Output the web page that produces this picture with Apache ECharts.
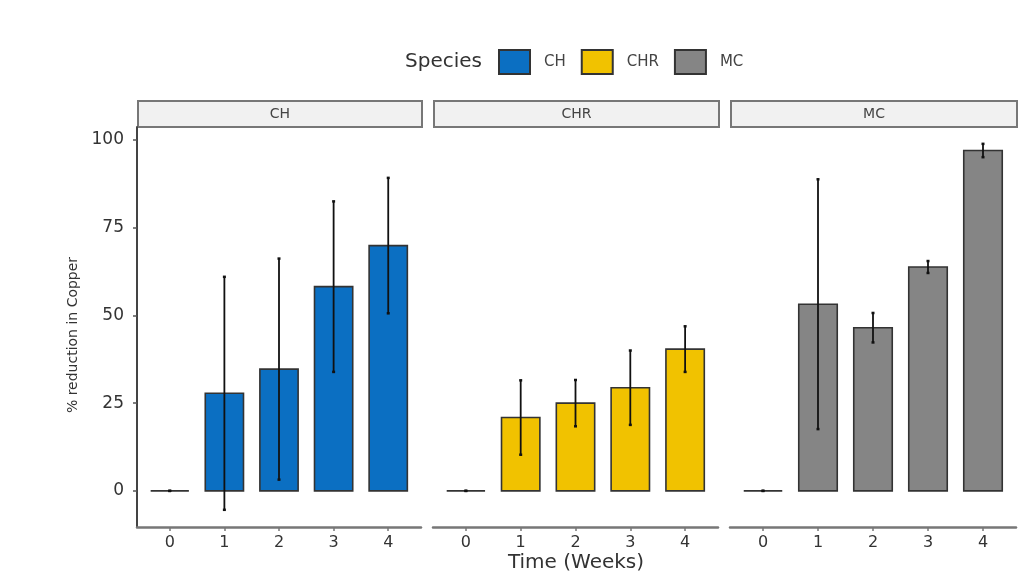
<!DOCTYPE html>
<html>
<head>
<meta charset="utf-8">
<script src="https://cdn.jsdelivr.net/npm/echarts@6/dist/echarts.min.js"></script>
<style>
  html, body { margin: 0; padding: 0; background: #fff; }
  #chart { width: 1031px; height: 586px; }
</style>
</head>
<body>
<div id="chart"></div>
<script>
// data
const species = ['CH', 'CHR', 'MC'];
const weeks = [0, 1, 2, 3, 4];
const meanCH = [0, 27.8, 34.7, 58.2, 69.9];
const errCH = [0, 33.2, 31.5, 24.3, 19.3];
const meanCHR = [0, 20.9, 25.0, 29.4, 40.4];
const errCHR = [0, 10.6, 6.6, 10.6, 6.5];
const meanMC = [0, 53.2, 46.5, 63.8, 97.0];
const errMC = [0, 35.6, 4.2, 1.7, 1.9];
const yTicks = [0, 25, 50, 75, 100];
const colors = ['#0b6fc2', '#f1c200', '#858585'];

const means = [meanCH, meanCHR, meanMC];
const errs = [errCH, errCHR, errMC];

const FONT = '"DejaVu Sans", Verdana, sans-serif';
const panels = [
  { left: 137, width: 284 },
  { left: 433, width: 285 },
  { left: 730, width: 286 },
];
const TOP = 127, HEIGHT = 400, STRIP_H = 27;

const barItem = (params, api) => {
  const x = api.value(0), m = api.value(1), e = api.value(2);
  const p0 = api.coord([x - 0.35, 0]);
  const p1 = api.coord([x + 0.35, m]);
  const hi = api.coord([x, m + e]);
  const lo = api.coord([x, m - e]);
  const cw = 1.5;
  const capStyle = { stroke: '#111', lineWidth: 2.5 };
  return {
    type: 'group',
    children: [
      {
        type: 'rect',
        shape: { x: p0[0], y: Math.min(p0[1], p1[1]), width: p1[0] - p0[0], height: Math.abs(p0[1] - p1[1]) },
        style: { fill: api.visual('color'), stroke: '#333', lineWidth: 1.6 },
      },
      { type: 'line', shape: { x1: hi[0], y1: hi[1], x2: lo[0], y2: lo[1] }, style: { stroke: '#111', lineWidth: 1.8 } },
      { type: 'line', shape: { x1: hi[0] - cw, y1: hi[1], x2: hi[0] + cw, y2: hi[1] }, style: capStyle },
      { type: 'line', shape: { x1: lo[0] - cw, y1: lo[1], x2: lo[0] + cw, y2: lo[1] }, style: capStyle },
    ],
  };
};

const grids = panels.map((p) => ({ left: p.left, width: p.width, top: TOP, height: HEIGHT }));

const xAxes = panels.map((p, i) => ({
  type: 'value',
  gridIndex: i,
  min: -0.6,
  max: 4.6,
  splitLine: { show: false },
  axisLine: { show: true, onZero: false, lineStyle: { color: '#777', width: 2.5 } },
  axisTick: { show: true, customValues: weeks, length: 4, lineStyle: { color: '#777', width: 1.5 } },
  axisLabel: { customValues: weeks, color: '#333', fontSize: 16, fontFamily: FONT, margin: 8 },
}));

const yAxes = panels.map((p, i) => ({
  type: 'value',
  gridIndex: i,
  min: -10.3,
  max: 103.7,
  splitLine: { show: false },
  axisLine: { show: i === 0, onZero: false, lineStyle: { color: '#444', width: 2 } },
  axisTick: { show: i === 0, customValues: yTicks, length: 4, lineStyle: { color: '#555', width: 1.5 } },
  axisLabel: { show: i === 0, customValues: yTicks, color: '#333', fontSize: 17, fontFamily: FONT, margin: 13 },
}));

const series = species.map((s, i) => ({
  name: s,
  type: 'custom',
  xAxisIndex: i,
  yAxisIndex: i,
  itemStyle: { color: colors[i], borderColor: '#333', borderWidth: 1.5 },
  renderItem: barItem,
  data: weeks.map((w, k) => [w, means[i][k], errs[i][k]]),
}));

const strips = panels.map((p, i) => ({
  type: 'group',
  left: p.left,
  top: TOP - STRIP_H,
  children: [
    { type: 'rect', shape: { x: 0, y: 0, width: p.width, height: STRIP_H - 1 }, style: { fill: '#f1f1f1', stroke: '#777', lineWidth: 2 } },
    { type: 'text', x: p.width / 2, y: STRIP_H / 2, style: { text: species[i], fill: '#444', font: `14px ${FONT}`, align: 'center', verticalAlign: 'middle' } },
  ],
}));

const chart = echarts.init(document.getElementById('chart'), null, { renderer: 'canvas' });
chart.setOption({
  animation: false,
  backgroundColor: '#fff',
  grid: grids,
  xAxis: xAxes,
  yAxis: yAxes,
  legend: {
    data: species,
    left: 498,
    top: 49,
    padding: 0,
    icon: 'rect',
    itemWidth: 31,
    itemHeight: 24,
    itemGap: 15,
    textStyle: { color: '#444', fontSize: 15, fontFamily: FONT, padding: [0, 0, 0, 9] },
  },
  graphic: [
    ...strips,
    { type: 'text', x: 405, y: 62, style: { text: 'Species', fill: '#333', font: `20px ${FONT}`, verticalAlign: 'middle' } },
    { type: 'text', x: 576, y: 563, style: { text: 'Time (Weeks)', fill: '#333', font: `20px ${FONT}`, align: 'center', verticalAlign: 'middle' } },
    {
      type: 'text', x: 73, y: 335, rotation: Math.PI / 2,
      style: { text: '% reduction in Copper', fill: '#333', font: `14px ${FONT}`, align: 'center', verticalAlign: 'middle' },
    },
  ],
  series,
});
</script>
</body>
</html>
